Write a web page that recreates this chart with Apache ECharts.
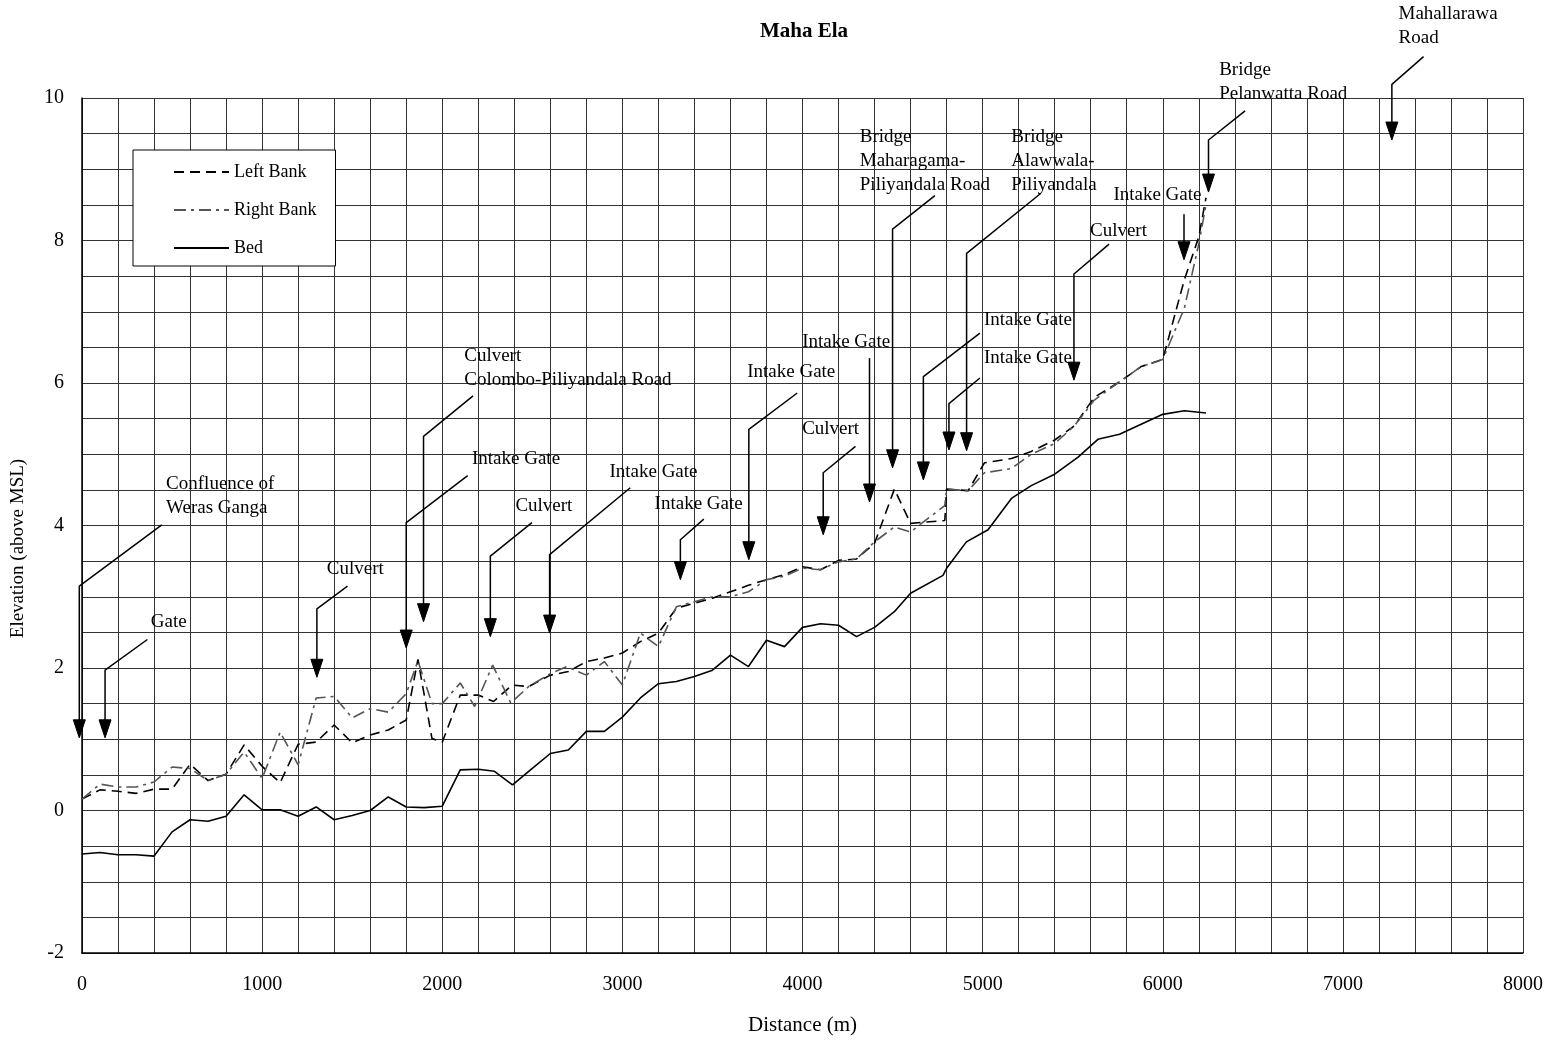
<!DOCTYPE html>
<html>
<head>
<meta charset="utf-8">
<script src="https://cdn.jsdelivr.net/npm/echarts@6/dist/echarts.min.js"></script>
<style>
html,body{margin:0;padding:0;background:#fff;}
#chart{width:1566px;height:1048px;}
</style>
</head>
<body>
<div id="chart"></div>
<script>
// ---- data (distance in m, elevation above MSL in m) ----
const leftX = [0,100,200,300,400,500,600,700,800,900,1000,1100,1200,1300,1400,1500,1600,1700,1800,1865,1943,2000,2100,2200,2285,2387,2480,2600,2700,2800,2900,3000,3100,3200,3300,3400,3500,3600,3700,3800,3900,4000,4100,4200,4300,4400,4510,4600,4790,4800,4920,5010,5160,5270,5400,5510,5620,5750,5880,6000,6120,6200,6240];
const leftY = [0.16,0.29,0.27,0.24,0.30,0.30,0.65,0.42,0.51,0.92,0.62,0.39,0.93,0.96,1.20,0.95,1.06,1.13,1.27,2.12,1.01,0.96,1.62,1.62,1.53,1.76,1.74,1.90,1.95,2.09,2.14,2.21,2.37,2.49,2.84,2.91,2.98,3.07,3.16,3.24,3.31,3.42,3.38,3.51,3.53,3.75,4.51,4.03,4.07,4.51,4.49,4.88,4.94,5.04,5.20,5.40,5.80,6.00,6.23,6.33,7.45,8.05,8.60];

const rightX = [0,100,200,300,400,500,600,700,800,900,1000,1100,1200,1300,1400,1500,1600,1700,1800,1865,1943,2000,2100,2180,2280,2380,2480,2600,2690,2800,2900,3000,3100,3200,3300,3400,3500,3600,3700,3800,3900,4000,4100,4200,4300,4400,4510,4600,4790,4800,4920,5010,5160,5270,5400,5510,5620,5750,5880,6000,6120,6200,6240];
const rightY = [0.16,0.37,0.33,0.33,0.40,0.61,0.59,0.42,0.51,0.82,0.45,1.10,0.64,1.58,1.60,1.30,1.43,1.38,1.64,2.10,1.50,1.50,1.79,1.46,2.04,1.51,1.74,1.92,2.02,1.90,2.09,1.76,2.49,2.30,2.86,2.93,3.00,3.00,3.07,3.24,3.29,3.40,3.38,3.49,3.53,3.77,3.98,3.91,4.28,4.51,4.49,4.74,4.80,5.00,5.15,5.40,5.76,6.00,6.23,6.33,7.05,7.95,8.50];

const bedX = [0,100,200,300,400,500,600,700,800,900,1000,1100,1200,1300,1400,1500,1600,1700,1800,1900,2000,2100,2200,2290,2390,2500,2600,2700,2800,2900,3000,3100,3200,3300,3400,3500,3600,3700,3800,3900,4000,4100,4200,4300,4400,4510,4600,4780,4800,4910,5030,5160,5270,5400,5530,5640,5760,5880,6000,6120,6240];
const bedY = [-0.61,-0.59,-0.62,-0.62,-0.64,-0.30,-0.13,-0.15,-0.08,0.22,0.01,0.01,-0.08,0.05,-0.13,-0.07,0.00,0.19,0.05,0.04,0.06,0.57,0.58,0.55,0.36,0.59,0.80,0.85,1.11,1.11,1.31,1.58,1.78,1.81,1.88,1.97,2.18,2.02,2.39,2.30,2.57,2.62,2.60,2.44,2.57,2.79,3.05,3.30,3.40,3.77,3.94,4.38,4.56,4.72,4.96,5.21,5.28,5.42,5.56,5.61,5.58];

const seriesNames = ['Left Bank','Right Bank','Bed'];
const xTickLabels = [0,1000,2000,3000,4000,5000,6000,7000,8000];
const yTickLabels = [-2,0,2,4,6,8,10];

// annotation texts
const annoText = [
  'Confluence of\nWeras Ganga',
  'Gate',
  'Culvert',
  'Culvert\nColombo-Piliyandala Road',
  'Intake Gate',
  'Culvert',
  'Intake Gate',
  'Intake Gate',
  'Intake Gate',
  'Culvert',
  'Intake Gate',
  'Bridge\nMaharagama-\nPiliyandala Road',
  'Intake Gate',
  'Intake Gate',
  'Bridge\nAlawwala-\nPiliyandala',
  'Culvert',
  'Intake Gate',
  'Bridge\nPelanwatta Road',
  'Mahallarawa\nRoad'
];
// label position (left, middle), leader start, arrow x / elbow y / tip y — all in data units
const annoTextX = [467,382,1359,2122,2165,2406,2928,3179,3693,3998,3998,4318,5007,5007,5159,5596,5726,6313,7309];
const annoTextY = [4.41,2.65,3.39,6.21,4.93,4.28,4.75,4.30,6.16,5.35,6.57,9.12,6.89,6.35,9.12,8.13,8.64,10.23,11.01];
const annoStartX = [443,363,1474,2171,2141,2498,3044,3452,3971,4294,4372,4735,4985,4985,5322,5702,6118,6457,7448];
const annoStartY = [4.01,2.40,3.15,5.82,4.70,4.04,4.53,4.09,5.86,5.11,6.35,8.63,6.70,6.07,8.66,7.95,8.37,9.82,10.58];
const annoArrowX = [-15,128,1304,1896,1800,2267,2596,3322,3702,4115,4372,4500,4671,4813,4911,5507,6118,6254,7272];
const annoElbowY = [3.15,1.97,2.83,5.25,4.04,3.57,3.59,3.80,5.35,4.74,6.35,8.16,6.09,5.71,7.82,7.53,8.37,9.41,10.19];
const annoTipY = [1.02,1.02,1.87,2.65,2.28,2.44,2.49,3.24,3.52,3.87,4.33,4.81,4.64,5.06,5.05,6.04,7.73,8.68,9.41];

// ---- build ----
const zip = (xs, ys) => xs.map((x, i) => [x, ys[i]]);
const annoData = annoText.map((t, i) => [annoTextX[i], annoTextY[i], annoStartX[i], annoStartY[i], annoArrowX[i], annoElbowY[i], annoTipY[i]]);

const SERIF = '"Liberation Serif", "Times New Roman", serif';
const chart = echarts.init(document.getElementById('chart'), null, {renderer: 'canvas'});

chart.setOption({
  animation: false,
  backgroundColor: '#fff',
  title: {
    text: 'Maha Ela',
    left: 755,
    top: 16,
    textStyle: {fontFamily: SERIF, fontSize: 21, fontWeight: 'bold', color: '#000'}
  },
  legend: {
    data: seriesNames,
    orient: 'vertical',
    left: 133,
    top: 150,
    padding: [13, 19, 9, 40],
    itemWidth: 55,
    itemHeight: 14,
    itemGap: 20,
    backgroundColor: '#fff',
    borderColor: '#000',
    borderWidth: 1,
    borderRadius: 0,
    itemStyle: {opacity: 0},
    textStyle: {fontFamily: SERIF, fontSize: 18, color: '#000'}
  },
  grid: {left: 82, right: 43, top: 98, bottom: 95, containLabel: false},
  xAxis: {
    type: 'value',
    min: 0, max: 8000, interval: 200,
    name: 'Distance (m)',
    nameLocation: 'middle',
    nameGap: 62,
    nameTextStyle: {fontFamily: SERIF, fontSize: 21, color: '#000'},
    axisLine: {show: true, onZero: false, lineStyle: {color: '#000', width: 1.5}},
    axisTick: {show: false},
    axisLabel: {
      margin: 22,
      fontFamily: SERIF, fontSize: 20, color: '#000',
      formatter: v => (xTickLabels.indexOf(v) >= 0 ? String(v) : '')
    },
    splitLine: {show: true, lineStyle: {color: '#333', width: 1}}
  },
  yAxis: {
    type: 'value',
    min: -2, max: 10, interval: 0.5,
    name: 'Elevation (above MSL)',
    nameLocation: 'middle',
    nameGap: 54,
    nameRotate: 90,
    nameTextStyle: {fontFamily: SERIF, fontSize: 19, color: '#000', padding: [0, 46, 0, 0]},
    axisLine: {show: true, onZero: false, lineStyle: {color: '#000', width: 1.5}},
    axisTick: {show: false},
    axisLabel: {
      margin: 18,
      fontFamily: SERIF, fontSize: 20, color: '#000',
      formatter: v => (yTickLabels.indexOf(v) >= 0 ? String(v) : '')
    },
    splitLine: {show: true, lineStyle: {color: '#333', width: 1}}
  },
  series: [
    {
      name: seriesNames[0], type: 'line', data: zip(leftX, leftY),
      symbol: 'none', z: 3,
      lineStyle: {color: '#000', width: 1.6, type: [10, 6]},
      itemStyle: {color: '#000'}
    },
    {
      name: seriesNames[1], type: 'line', data: zip(rightX, rightY),
      symbol: 'none', z: 3,
      lineStyle: {color: '#555', width: 1.6, type: [12, 5, 3, 5]},
      itemStyle: {color: '#555'}
    },
    {
      name: seriesNames[2], type: 'line', data: zip(bedX, bedY),
      symbol: 'none', z: 3,
      lineStyle: {color: '#000', width: 1.6, type: 'solid'},
      itemStyle: {color: '#000'}
    },
    {
      name: 'annotations', type: 'custom', data: annoData, z: 5,
      clip: false, silent: true,
      encode: {x: 0, y: 1},
      renderItem: function (params, api) {
        const i = params.dataIndex;
        const t = api.coord([api.value(0), api.value(1)]);
        const s = api.coord([api.value(2), api.value(3)]);
        const e = api.coord([api.value(4), api.value(5)]);
        const tip = api.coord([api.value(4), api.value(6)]);
        const head = 18, hw = 6;
        const pts = [];
        if (Math.abs(s[0] - e[0]) > 0.5 || Math.abs(s[1] - e[1]) > 0.5) pts.push(s);
        pts.push(e);
        pts.push([tip[0], tip[1] - head + 2]);
        return {
          type: 'group',
          children: [
            {
              type: 'text',
              style: {
                x: t[0], y: t[1], text: annoText[i],
                fontFamily: SERIF, fontSize: 19, fill: '#000',
                align: 'left', verticalAlign: 'middle', lineHeight: 24
              }
            },
            {
              type: 'polyline',
              shape: {points: pts},
              style: {stroke: '#000', lineWidth: 1.5, fill: null}
            },
            {
              type: 'polygon',
              shape: {points: [[tip[0] - hw, tip[1] - head], [tip[0] + hw, tip[1] - head], [tip[0], tip[1]]]},
              style: {fill: '#000', stroke: '#000', lineWidth: 1}
            }
          ]
        };
      }
    }
  ]
});
</script>
</body>
</html>
